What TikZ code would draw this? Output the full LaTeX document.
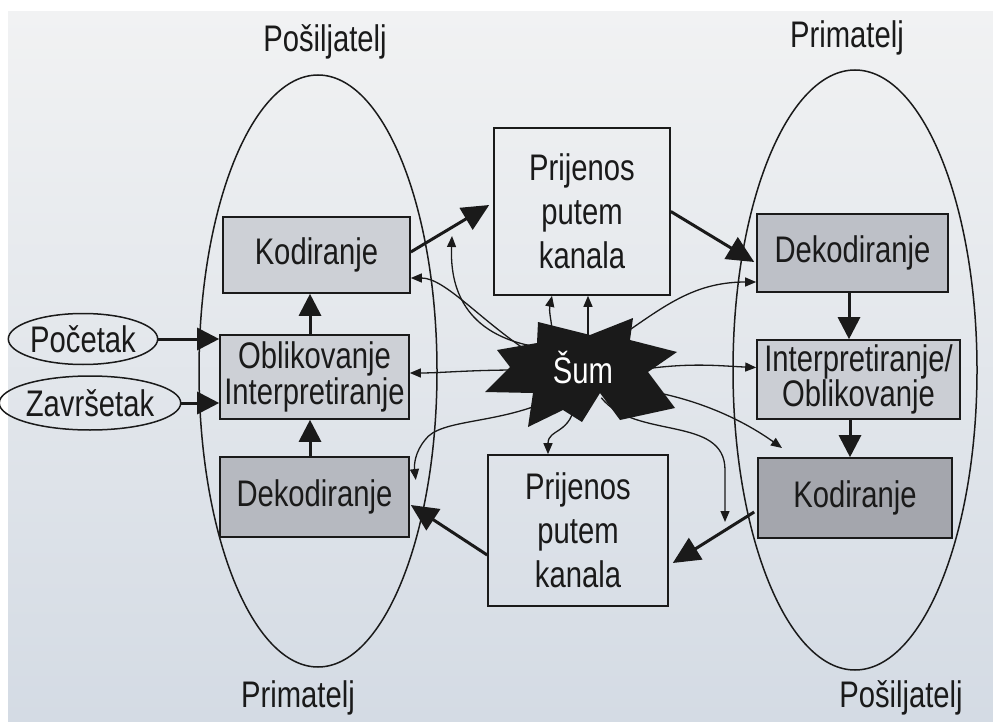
\documentclass[tikz,border=0pt]{standalone}
\usepackage{fontspec}
\setmainfont[FakeStretch=0.79]{Liberation Sans}
\usetikzlibrary{arrows.meta,shapes.geometric}
\definecolor{paperA}{HTML}{F1F2F3}
\definecolor{paperB}{HTML}{D4DBE4}
\definecolor{boxA}{HTML}{CDD0D6}
\definecolor{boxB}{HTML}{B6B9C0}
\definecolor{ink}{HTML}{1A1A1A}
\begin{document}
\begin{tikzpicture}[x=1pt,y=-1pt,
  txt/.style={font=\fontsize{37}{40}\selectfont, text=ink},
  box/.style={draw=ink, line width=1.6pt, rectangle, inner sep=0pt, txt, align=center},
  oval/.style={draw=ink, line width=1.5pt, ellipse, inner sep=0pt},
  big/.style={draw=ink, line width=3pt, -{Triangle[length=22pt,width=22pt]}},
  bigd/.style={draw=ink, line width=3pt, -{Triangle[length=27pt,width=25pt]}},
  small/.style={draw=ink, line width=1.3pt, -{Triangle[length=11pt,width=9pt]}},
]
\useasboundingbox (0,0) rectangle (993,722);
\fill[white] (0,0) rectangle (993,722);
\shade[top color=paperA, bottom color=paperB] (8,12) rectangle (993,722);

% titles
\node[txt] (t1) at (325,42) {Pošiljatelj};
\node[txt] (t2) at (847,38) {Primatelj};
\node[txt] (t3) at (298,698) {Primatelj};
\node[txt] (t4) at (901,698) {Pošiljatelj};

% big ellipses
\node[oval, minimum width=238, minimum height=592] (lE) at (318,371) {};
\node[oval, minimum width=244, minimum height=600] (rE) at (855,370) {};

% start/end ovals
\node[oval, txt, minimum width=132, minimum height=51] (pE) at (83,339) {Početak};
\node[oval, txt, minimum width=150, minimum height=54] (zE) at (90,403) {Završetak};

% left boxes
\node[box, fill=boxA, minimum width=187, minimum height=76] (lK) at (316.5,255) {Kodiranje};
\node[box, fill=boxA, minimum width=189, minimum height=84, font=\fontsize{37}{36}\selectfont] (lO) at (314.5,377) {Oblikovanje\\Interpretiranje};
\node[box, fill=boxB, minimum width=189, minimum height=80] (lD) at (314.5,497) {Dekodiranje};

% right boxes
\node[box, fill=boxB!70!boxA, minimum width=191, minimum height=78] (rD) at (852.5,253) {Dekodiranje};
\node[box, fill=boxA!90!boxB, minimum width=203, minimum height=79, font=\fontsize{37}{35}\selectfont] (rI) at (858.5,379.5) {Interpretiranje/\\Oblikovanje};
\node[box, fill=boxB!90!black, minimum width=194, minimum height=80] (rK) at (855,498) {Kodiranje};

% channel boxes
\node[box, fill=none, minimum width=176, minimum height=167, font=\fontsize{37}{44}\selectfont] (tP) at (582,211.5) {Prijenos\\putem\\kanala};
\node[box, fill=none, minimum width=180, minimum height=151, font=\fontsize{37}{44}\selectfont] (bP) at (578,530.5) {Prijenos\\putem\\kanala};

% noise anchor
\node[ellipse, minimum width=120, minimum height=60, inner sep=0pt] (sum) at (578,370) {};

% thick arrows
\draw[bigd] ([yshift=3]lK.east) -- ([xshift=-4,yshift=6.5]tP.west);
\draw[bigd] (tP.east) -- ([xshift=-2,yshift=-9]rD.west);
\draw[big] ([xshift=-3.5]rD.south) -- ([xshift=-9.5]rI.north);
\draw[big] ([xshift=-8.5]rI.south) -- ([xshift=-5]rK.north);
\draw[bigd] ([xshift=-3,yshift=-14]rK.west) -- ([xshift=4,yshift=-32.5]bP.east);
\draw[bigd] ([yshift=-24.5]bP.west) -- ([xshift=1,yshift=-8]lD.east);
\draw[big] ([xshift=-4.5]lD.north) -- ([xshift=-4.5]lO.south);
\draw[big] ([xshift=-4.5]lO.north) -- ([xshift=-6.5]lK.south);
\draw[big] (pE.east) -- (pE.east -| lO.west);
\draw[big] (zE.east) -- (zE.east -| lO.west);

% noise arrows
\coordinate (nb) at (452,236);
\coordinate (ng) at (782,448);
\coordinate (nh) at (725,522);
\coordinate (d1) at ([xshift=-30]tP.south);
\coordinate (d2) at ([xshift=6]tP.south);
\draw[small] (sum.160) .. controls (480,320) and (445,278) .. ([yshift=-23]lK.east);
\draw[small] (sum.150) .. controls (462,335) and (450,285) .. (nb);
\draw[small] (sum.180) .. controls (470,370) and (440,373) .. ([yshift=4]lO.east);
\draw[small] (d1 |- sum.center) .. controls (556,330) and (548,315) .. (d1);
\draw[small] (d2 |- sum.center) -- (d2);
\draw[small] (sum.40) .. controls (660,310) and (690,282) .. ([yshift=-29]rD.west);
\draw[small] (sum.0) .. controls (690,362) and (720,366) .. ([yshift=12]rI.west);
\draw[small] (sum.-20) .. controls (690,395) and (740,418) .. (ng);
\draw[small] (sum.-50) .. controls (635,440) and (725,415) .. (725,470) -- (nh);
\draw[small] (sum.-95) .. controls (572,435) and (548,428) .. ([xshift=-30]bP.north);
\draw[small] (sum.-130) .. controls (500,425) and (440,418) .. (425,440) .. controls (415,452) and (414,465) .. ([xshift=6,yshift=17]lD.east);

% noise star
\fill[ink] (538,322) -- (590,335) -- (633,318) -- (630,340) -- (677,352) -- (648,372)
  -- (675,408) -- (620,420) -- (600,393) -- (582,422) -- (563,410) -- (528,427)
  -- (533,393) -- (485,392) -- (510,367) -- (497,350) -- (537,343) -- cycle;
\node[txt, text=white] (sumlabel) at (583,368) {Šum};
\end{tikzpicture}
\end{document}
